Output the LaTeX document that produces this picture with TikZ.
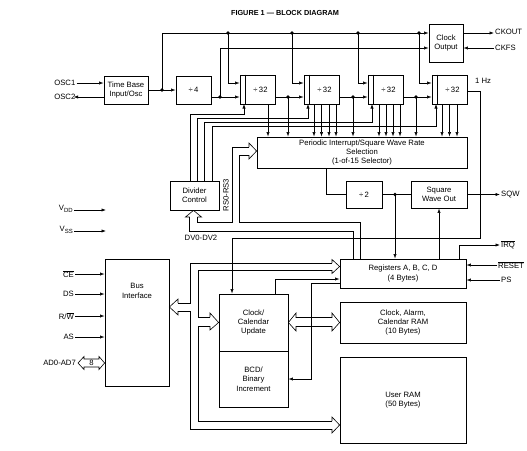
\documentclass[tikz,border=0pt]{standalone}
\usepackage{fontspec}
\setmainfont{Liberation Sans}
\usepackage{tikz}
\usetikzlibrary{arrows.meta, positioning, calc}
\newcommand{\dgfont}{\fontsize{7.7}{9.4}\selectfont}
\newcommand{\ttlfont}{\fontsize{7.3}{9}\selectfont\bfseries}
\newcommand{\subpin}[1]{\raisebox{-1.6pt}{\fontsize{6}{6}\selectfont #1}}
\tikzset{
  block/.style={rectangle, draw, line width=0.8pt, inner sep=0pt,
    align=center, font=\dgfont},
  pin/.style={font=\dgfont, inner sep=1pt},
  arrow/.style={-{Latex[length=4.5pt,width=3.2pt]}, line width=0.6pt},
  line/.style={line width=0.6pt},
  bus/.style={line width=0.6pt, line join=miter},
  jdot/.style={circle, fill, inner sep=0pt, minimum size=3.8pt}
}

\begin{document}
\begin{tikzpicture}[x=1pt, y=-1pt]
  \path[use as bounding box] (0,0) rectangle (527,450);

  % Title
  \node[font=\ttlfont] (title) at (285,13) {FIGURE 1 --- BLOCK DIAGRAM};

  % Blocks
  \node[block, minimum width=34pt, minimum height=38pt] (clk) at (446,43) {Clock\\Output};
  \node[block, minimum width=44pt, minimum height=28pt] (tb) at (126,90) {Time Base\\Input/Osc};
  \node[block, minimum width=35pt, minimum height=28pt] (d4) at (193.5,90) {÷\,4};
  \foreach \n/\x in {d32a/257.5, d32b/321.5, d32c/385.5, d32d/449.5} {
    \node[block, minimum width=35pt, minimum height=29pt] (\n) at (\x,89.5) {};
    \draw[line] ([xshift=6pt]\n.north west) -- ([xshift=6pt]\n.south west);
    \node[font=\dgfont] at ([xshift=3pt]\n.center) {÷\,32};
  }
  \node[block, minimum width=210pt, minimum height=31pt] (pi) at (362,152.5)
    {Periodic Interrupt/Square Wave Rate\\Selection\\(1-of-15 Selector)};
  \node[block, minimum width=49pt, minimum height=29pt] (dc) at (194.5,195.5) {Divider\\Control};
  \node[block, minimum width=36pt, minimum height=27pt] (d2) at (364,194.5) {÷\,2};
  \node[block, minimum width=56pt, minimum height=27pt] (sqo) at (439,194.5) {Square\\Wave Out};
  \node[block, minimum width=126pt, minimum height=29pt] (reg) at (403,273.5) {Registers A, B, C, D\\(4 Bytes)};
  \node[block, minimum width=64pt, minimum height=127pt] (bi) at (137,322.5) {};
  \node[font=\dgfont, align=center] (bitext) at (137,291) {Bus\\Interface};
  \node[block, minimum width=69pt, minimum height=57pt] (ccu) at (253.5,322.5) {Clock/\\Calendar\\Update};
  \node[block, minimum width=69pt, minimum height=56pt] (bcd) at (253.5,379) {BCD/\\Binary\\Increment};
  \node[block, minimum width=126pt, minimum height=41pt] (car) at (403,322.5) {Clock, Alarm,\\Calendar RAM\\(10 Bytes)};
  \node[block, minimum width=126pt, minimum height=86pt] (uram) at (403,400) {User RAM\\(50 Bytes)};

  % Pins, left side
  \node[pin, anchor=east] (osc1) at (76.5,83) {OSC1};
  \node[pin, anchor=east] (osc2) at (76.5,97) {OSC2};
  \node[pin, anchor=east] (vdd) at (74,209) {V\subpin{DD}};
  \node[pin, anchor=east] (vss) at (74,230) {V\subpin{SS}};
  \node[pin, anchor=east] (ce) at (75,274) {$\overline{\mbox{CE}}$};
  \node[pin, anchor=east] (ds) at (75,294) {DS};
  \node[pin, anchor=east] (rw) at (75,316) {R/$\overline{\mbox{W}}$};
  \node[pin, anchor=east] (as) at (75,337) {AS};
  \node[pin, anchor=east] (ad) at (77,363) {AD0-AD7};
  \coordinate (vddend) at (106,210);
  \coordinate (vssend) at (106,231);

  % Pins, right side
  \node[pin, anchor=west] (ckout) at (494,32) {CKOUT};
  \node[pin, anchor=west] (ckfs) at (494,48) {CKFS};
  \node[pin] (onehz) at (483,81) {1 Hz};
  \node[pin, anchor=west] (sqw) at (500,194.5) {SQW};
  \node[pin, anchor=west] (irq) at (500,245) {$\overline{\mbox{IRQ}}$};
  \node[pin, anchor=west] (reset) at (497,265) {$\overline{\mbox{RESET}}$};
  \node[pin, anchor=west] (ps) at (500,280) {PS};

  % Junctions
  \coordinate (j0) at (162,90);
  \coordinate (j1) at (220,97);
  \coordinate (j2) at (288,97);
  \coordinate (j3) at (353,97);
  \coordinate (j4) at (416,97);
  \coordinate (j5) at (395,194.5);
  \coordinate (ckin1) at ([yshift=10pt]clk.west);
  \coordinate (ckin2) at ([yshift=-5pt]clk.west);
  \foreach \j in {j0,j1,j2,j3,j4,j5} \node[jdot] at (\j) {};

  % Oscillator and clock output
  \draw[arrow] (osc1.east) -- (tb.west |- osc1);
  \draw[arrow] (tb.west |- osc2) -- ([xshift=-3pt]osc2.east);
  \draw[arrow] (tb.east) -- (d4.west);
  \draw[arrow] (j0) |- (ckin1);
  \draw[arrow] (j1) |- (ckin2);
  \draw[arrow] ([yshift=10pt]clk.east) -- (ckout.west |- 0,33);
  \draw[arrow] (ckfs.west) -- (clk.east |- ckfs);

  % Divider chain
  \foreach \n/\x in {d32a/228, d32b/292, d32c/358, d32d/419} {
    \node[jdot] at (\x,33) {};
    \draw[arrow] (\x,33) |- ([yshift=6.5pt]\n.west);
  }
  \draw[arrow] (d4.east |- j1) -- (d32a.west |- j1);
  \draw[arrow] (d32a.east |- j2) -- (d32b.west |- j2);
  \draw[arrow] (d32b.east |- j3) -- (d32c.west |- j3);
  \draw[arrow] (d32c.east |- j4) -- (d32d.west |- j4);

  % Taps into the rate selector
  \foreach \x in {268, 314, 321.5, 329, 336, 379, 386, 393, 400, 442, 449.5, 457}
    \draw[arrow] (\x,104) -- (\x,0 |- pi.north);
  \foreach \j in {j2,j3,j4}
    \draw[arrow] (\j) -- (\j |- pi.north);

  % Divider resets
  \foreach \x/\y/\t in {190/114/244, 197/118/308, 204/122/372, 212/126/436}
    \draw[arrow] (\x,0 |- dc.north) |- (\t,\y) -- (\t,104);

  % 1 Hz to update logic
  \draw[arrow] ([yshift=-1.5pt]d32d.east) -| (480,238) -| (232,0 |- ccu.north);

  % Square wave path
  \draw[line] (326,0 |- pi.south) |- (d2.west);
  \draw[line] (d2.east) -- (sqo.west);
  \draw[arrow] (sqo.east) -- (sqw.west);
  \draw[arrow] (j5) -- (j5 |- reg.north);
  \draw[arrow] (sqo.south |- reg.north) -- (sqo.south);
  \draw[arrow] (459,0 |- reg.north) |- (irq.west);
  \draw[arrow] (reset.west) -- (reg.east |- reset);
  \draw[arrow] (ps.west) -- (reg.east |- ps);

  % Register bus DV0-DV2 / RS0-RS3
  \draw[bus] (189.5,217) -- (189.5,231) -- (353,231) -- (353,0 |- reg.north);
  \draw[bus] (197.5,217) -- (197.5,222) -- (232,222) -- (232,147) -- (249,147);
  \draw[bus] (360,0 |- reg.north) -- (360,222) -- (239,222) -- (239,155) -- (249,155);
  \draw[bus] (189.5,217) -- (185.5,217) -- (193.5,0 |- dc.south) -- (201.5,217) -- (197.5,217);
  \draw[bus] (249,147) -- (249,143) -- (pi.west |- 0,151) -- (249,159) -- (249,155);
  \node[font=\dgfont, rotate=90] (rslabel) at (226,195) {RS0-RS3};
  \node[font=\dgfont] (dvlabel) at (201,237.5) {DV0-DV2};

  % Register flags
  \draw[arrow] (275,0 |- ccu.north) |- (reg.west |- 0,279);
  \draw[arrow] (reg.west |- 0,283.5) -| (311,379) -- (bcd.east);

  % Data bus
  \draw[bus] (178,303) -- (190,303) -- (190,263) -- (332,263);
  \draw[bus] (332,270) -- (198,270) -- (198,317) -- (210,317);
  \draw[bus] (210,326) -- (198,326) -- (198,421) -- (332,421);
  \draw[bus] (332,429) -- (190,429) -- (190,311) -- (178,311);
  \draw[bus] (178,303) -- (178,299) -- (bi.east |- 0,307) -- (178,315) -- (178,311);
  \draw[bus] (332,263) -- (332,259.5) -- (reg.west |- 0,266.5) -- (332,273.5) -- (332,270);
  \draw[bus] (210,317) -- (210,313) -- (ccu.west) -- (210,330) -- (210,326);
  \draw[bus] (332,421) -- (332,417) -- (uram.west |- 0,425) -- (332,433) -- (332,429);
  \draw[bus] (ccu.east) -- (296,313) -- (296,317.5) -- (332,317.5) -- (332,313)
    -- (car.west) -- (332,331) -- (332,326.5) -- (296,326.5) -- (296,331) -- cycle;

  % Address/data pins
  \draw[bus] (78,363) -- (84,356.5) -- (84,359) -- (99,359) -- (99,356.5) -- (bi.west |- 0,363)
    -- (99,369.5) -- (99,367) -- (84,367) -- (84,369.5) -- cycle;
  \node[font=\dgfont] (eight) at (91.5,363) {8};

  % Control inputs
  \draw[arrow] (vdd.east |- vddend) -- (vddend);
  \draw[arrow] (vss.east |- vssend) -- (vssend);
  \foreach \p in {ce, ds, rw, as}
    \draw[arrow] (\p.east) -- (bi.west |- \p);
\end{tikzpicture}
\end{document}
